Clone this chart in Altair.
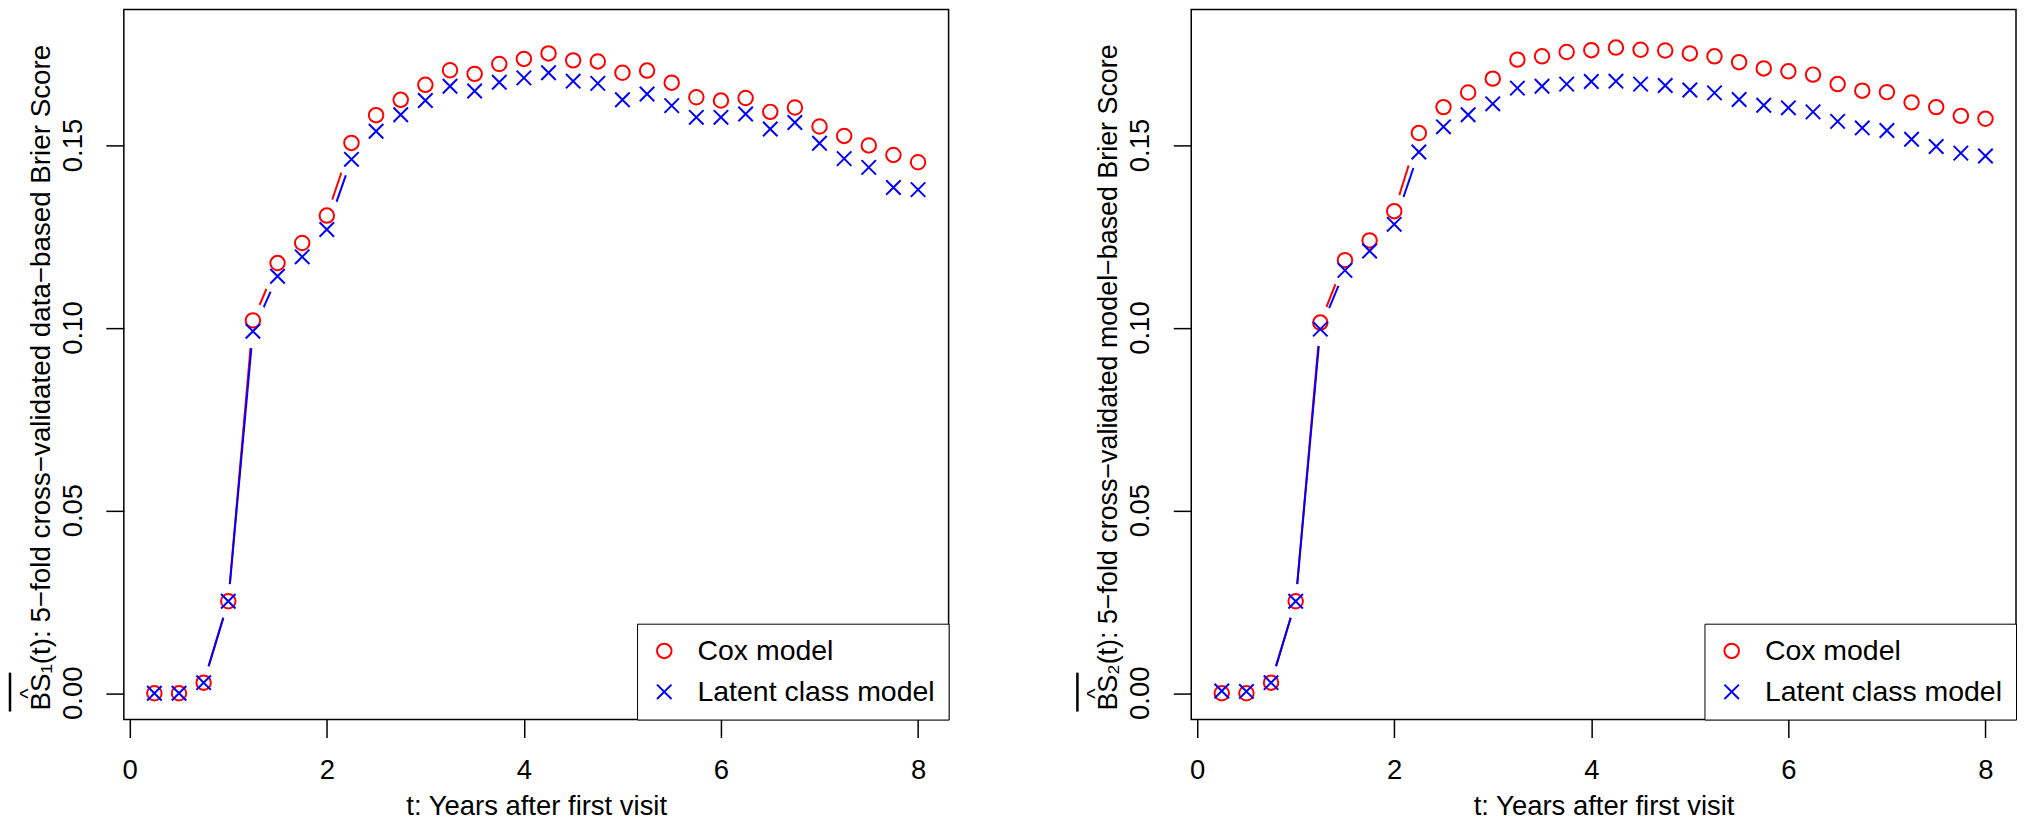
import altair as alt
import pandas as pd

# ---------------- data ----------------
t_years = [0.25, 0.5, 0.75, 1.0, 1.25, 1.5, 1.75, 2.0, 2.25, 2.5, 2.75, 3.0, 3.25, 3.5, 3.75, 4.0,
           4.25, 4.5, 4.75, 5.0, 5.25, 5.5, 5.75, 6.0, 6.25, 6.5, 6.75, 7.0, 7.25, 7.5, 7.75, 8.0]

bs1_cox = [0.0000, 0.0000, 0.0029, 0.0252, 0.1021, 0.1178, 0.1233, 0.1308, 0.1507, 0.1583, 0.1625,
           0.1666, 0.1706, 0.1696, 0.1723, 0.1737, 0.1752, 0.1733, 0.1730, 0.1699, 0.1705, 0.1672,
           0.1632, 0.1623, 0.1630, 0.1592, 0.1604, 0.1552, 0.1526, 0.1500, 0.1474, 0.1454]
bs1_lcm = [0.0000, 0.0000, 0.0029, 0.0252, 0.0991, 0.1142, 0.1195, 0.1270, 0.1462, 0.1539, 0.1584,
           0.1623, 0.1662, 0.1649, 0.1673, 0.1685, 0.1699, 0.1676, 0.1670, 0.1625, 0.1641, 0.1609,
           0.1577, 0.1577, 0.1586, 0.1545, 0.1563, 0.1506, 0.1464, 0.1440, 0.1385, 0.1379]

bs2_cox = [0.0000, 0.0000, 0.0029, 0.0252, 0.1015, 0.1186, 0.1240, 0.1320, 0.1534, 0.1605, 0.1645,
           0.1683, 0.1735, 0.1744, 0.1756, 0.1761, 0.1768, 0.1762, 0.1760, 0.1752, 0.1744, 0.1728,
           0.1711, 0.1703, 0.1694, 0.1668, 0.1650, 0.1646, 0.1618, 0.1605, 0.1581, 0.1573]
bs2_lcm = [0.0006, 0.0005, 0.0029, 0.0252, 0.0997, 0.1158, 0.1211, 0.1284, 0.1482, 0.1551, 0.1584,
           0.1614, 0.1657, 0.1662, 0.1668, 0.1675, 0.1676, 0.1668, 0.1664, 0.1652, 0.1644, 0.1626,
           0.1610, 0.1603, 0.1592, 0.1566, 0.1548, 0.1541, 0.1517, 0.1497, 0.1479, 0.1471]

models = ["Cox model", "Latent class model"]
model_colors = ["#ff0000", "#0000ff"]
x_ticks = [0, 2, 4, 6, 8]
y_ticks = [0.0, 0.05, 0.10, 0.15]
y_tick_labels = ["0.00", "0.05", "0.10", "0.15"]
x_title = "t: Years after first visit"
y_title_1 = "BS\u2081(t): 5\u2212fold cross\u2212validated data\u2212based Brier Score"
y_title_2 = "BS\u2082(t): 5\u2212fold cross\u2212validated model\u2212based Brier Score"

# ---------------- layout / style ----------------
W, H = 826, 711
FONT = "Liberation Sans"
X_PATH = "M-1,-1L1,1M-1,1L1,-1"


def long_df(cox, lcm):
    rows = []
    for m, vals in zip(models, [cox, lcm]):
        for t, v in zip(t_years, vals):
            rows.append({"t": t, "bs": v, "model": m})
    return pd.DataFrame(rows)


def panel(cox, lcm, ytitle, ytitle_size):
    df = long_df(cox, lcm)
    xs = alt.Scale(domain=[-0.06, 8.31], nice=False, zero=False)
    ys = alt.Scale(domain=[-0.0072, 0.1872], nice=False, zero=False)
    x = alt.X("t:Q", scale=xs,
              axis=alt.Axis(values=x_ticks, format="d", title=x_title,
                            labelPadding=19, titlePadding=9))
    y = alt.Y("bs:Q", scale=ys,
              axis=alt.Axis(values=y_ticks, title=None, labels=False))
    base = alt.Chart(df)

    line_layers = [
        base.transform_filter(alt.datum.model == m)
        .mark_line(strokeWidth=2, color=c)
        .encode(x=x, y=y)
        for m, c in zip(models, model_colors)
    ]
    gaps = base.mark_point(filled=True, shape="circle", size=1156, opacity=1,
                           strokeWidth=0).encode(x=x, y=y, color=alt.value("white"))
    pts = base.mark_point(filled=False, size=210, strokeWidth=2, opacity=1).encode(
        x=x, y=y,
        color=alt.Color("model:N", scale=alt.Scale(domain=models, range=model_colors),
                        legend=alt.Legend(title=None, orient="bottom-right")),
        shape=alt.Shape("model:N", scale=alt.Scale(domain=models, range=["circle", X_PATH]),
                        legend=alt.Legend(title=None, orient="bottom-right")),
    )

    # rotated y tick labels, placed through the y scale
    tick_df = pd.DataFrame({"bs": y_ticks, "lab": y_tick_labels})
    ticklab = alt.Chart(tick_df).mark_text(
        angle=270, align="center", baseline="alphabetic", font=FONT, fontSize=27.5,
        color="black").encode(x=alt.value(-42), y=y, text="lab:N")

    s0 = H - 9  # start (bottom end) of the rotated y title
    annot = alt.Chart(pd.DataFrame({"k": [0]}))
    ylab = annot.mark_text(text=ytitle, angle=270, align="left", baseline="alphabetic",
                           font=FONT, fontSize=ytitle_size, color="black").encode(
        x=alt.value(-74), y=alt.value(s0))
    hat = annot.mark_text(text="^", angle=270, align="center", baseline="alphabetic",
                          font=FONT, fontSize=22, color="black").encode(
        x=alt.value(-89), y=alt.value(s0 - 17))
    bar = annot.mark_rule(strokeWidth=2.5, color="black").encode(
        x=alt.value(-114), y=alt.value(s0 + 1), y2=alt.value(s0 - 38))

    return alt.layer(*line_layers, gaps, pts, ticklab, ylab, hat, bar).properties(
        width=W, height=H)


p1 = panel(bs1_cox, bs1_lcm, y_title_1, 27.8)
p2 = panel(bs2_cox, bs2_lcm, y_title_2, 26.9)

chart = (
    alt.hconcat(p1, p2, spacing=125)
    .resolve_scale(color="independent", shape="independent")
    .resolve_legend(color="independent", shape="independent")
    .properties(padding=0)
    .configure_view(stroke="black", strokeWidth=1.5)
    .configure_axis(labelFont=FONT, labelFontSize=27.5, labelColor="black",
                    titleFont=FONT, titleFontSize=27.5, titleFontWeight="normal",
                    titleColor="black", tickColor="black", tickWidth=1.5, tickSize=18,
                    domain=False, grid=False, labelFlush=False, labelOverlap=False)
    .configure_legend(offset=0, padding=13, strokeColor="black",
                      fillColor="white", labelFont=FONT, labelFontSize=28.5,
                      labelColor="black", labelLimit=400, symbolSize=210,
                      symbolStrokeWidth=2, rowPadding=12, labelOffset=19, symbolOffset=0,
                      columnPadding=0, cornerRadius=0)
)

chart.save("out.html", embed_options={"renderer": "svg", "actions": False})
